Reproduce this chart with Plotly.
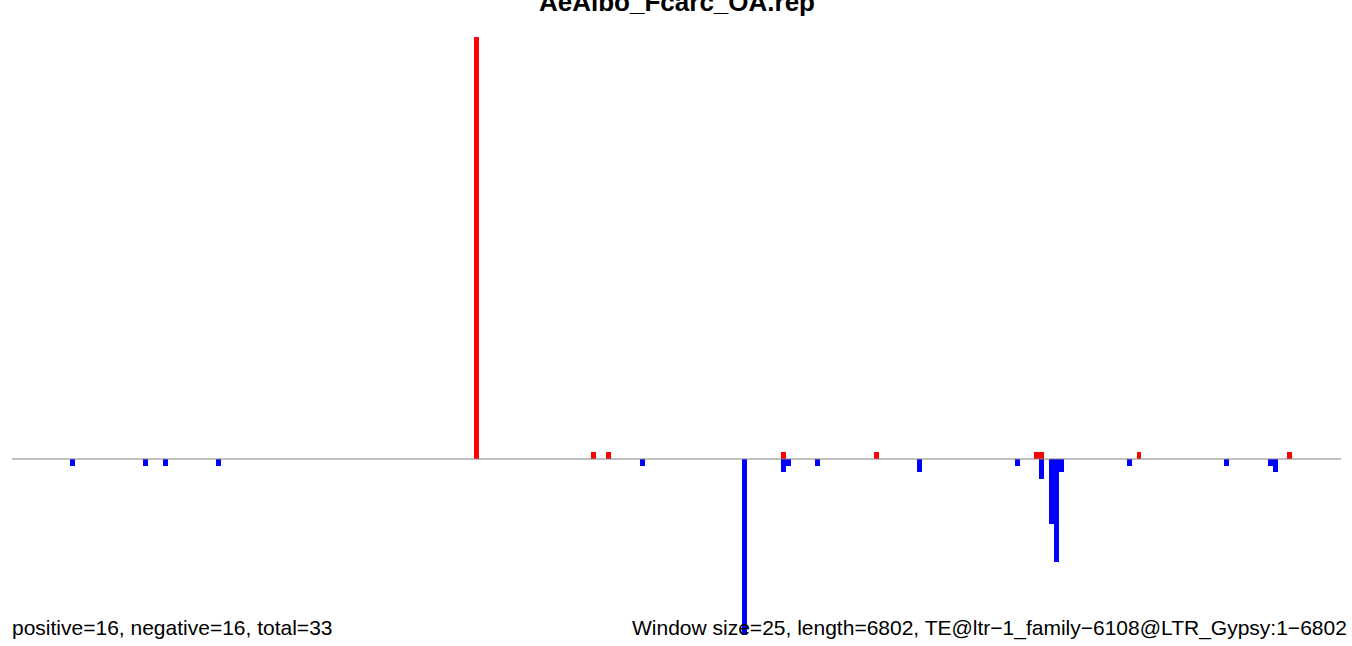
import plotly.graph_objects as go

# window size 25 bp, sequence length 6802 -> 273 windows
window_size = 25
seq_length = 6802
n_windows = 273

# windows with positive-strand signal (red) and their heights
pos_windows = [95, 119, 122, 158, 177, 210, 211, 231, 262]
pos_values = [63.3, 1, 1, 1, 1, 1, 1, 1, 1]

# windows with negative-strand signal (blue), drawn downward
neg_windows = [12, 27, 31, 42, 129, 150, 158, 159, 165, 186, 206, 211, 213, 214, 215, 229, 249, 258, 259]
neg_values = [1, 1, 1, 1, 1, 26.4, 2, 1, 1, 2, 1, 3, 9.7, 15.5, 2, 1, 1, 1, 2]

title_text = "AeAlbo_Fcarc_OA.rep"
left_note = "positive=16, negative=16, total=33"
right_note = "Window size=25, length=6802, TE@ltr\u22121_family\u22126108@LTR_Gypsy:1\u22126802"

fig = go.Figure()

fig.add_trace(go.Bar(
    x=[w + 0.5 for w in pos_windows], y=pos_values, width=1,
    marker=dict(color="#FF0000", line=dict(width=0)), name="positive"))
fig.add_trace(go.Bar(
    x=[w + 0.5 for w in neg_windows], y=[-v for v in neg_values], width=1,
    marker=dict(color="#0000FF", line=dict(width=0)), name="negative"))

# horizontal baseline
fig.add_shape(type="line", xref="paper", x0=0, x1=1, yref="y", y0=0, y1=0,
              line=dict(color="#808080", width=1), layer="above")

font_family = "Liberation Sans, Arial, sans-serif"

fig.add_annotation(text="<b>" + title_text + "</b>", xref="paper", yref="paper",
                   x=0.5, y=1.058, xanchor="center", yanchor="middle", showarrow=False,
                   font=dict(family=font_family, size=26, color="black"))
fig.add_annotation(text=left_note, xref="paper", yref="paper",
                   x=0, y=0.012, xanchor="left", yanchor="middle", showarrow=False,
                   xshift=-2,
                   font=dict(family=font_family, size=21, color="black"))
fig.add_annotation(text=right_note, xref="paper", yref="paper",
                   x=1.006, y=0.012, xanchor="right", yanchor="middle", showarrow=False,
                   font=dict(family=font_family, size=21, color="black"))

fig.update_layout(
    width=1352, height=646,
    margin=dict(l=12, r=11, t=37, b=11),
    paper_bgcolor="white", plot_bgcolor="white",
    barmode="relative", bargap=0, showlegend=False,
    xaxis=dict(range=[0, n_windows], visible=False),
    yaxis=dict(range=[-26.4, 63.3], visible=False),
)

# drop the default page margin so the figure sits at the window's corner
fig.write_html("out.html", config={"displayModeBar": False},
               post_script="document.body.style.margin='0';document.body.style.overflow='hidden';")
